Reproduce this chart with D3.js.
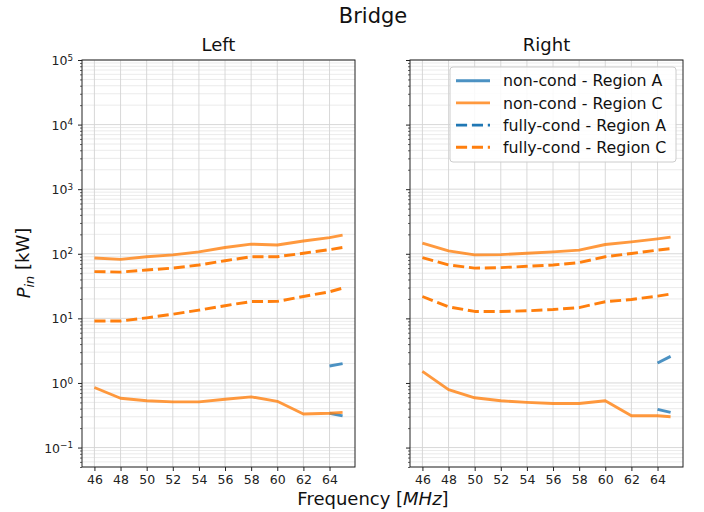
<!DOCTYPE html>
<html>
<head>
<meta charset="utf-8">
<script src="https://cdn.jsdelivr.net/npm/d3@7"></script>
<style>
  html, body { margin: 0; padding: 0; background: #fff; }
  svg { display: block; font-family: "DejaVu Sans", sans-serif; }
</style>
</head>
<body>
<svg id="chart" width="704" height="512"></svg>
<script>
// ---------- data ----------
const freqs = [46, 48, 50, 52, 54, 56, 58, 60, 62, 64, 65];
const freqsA = [64, 65];
const xTickValues = [46, 48, 50, 52, 54, 56, 58, 60, 62, 64];
const yDecades = [0.1, 1, 10, 100, 1000, 10000, 100000];
const yDecadeExp = ["\u22121", "0", "1", "2", "3", "4", "5"];
const panelTitles = ["Left", "Right"];
const legendLabels = ["non-cond - Region A", "non-cond - Region C", "fully-cond - Region A", "fully-cond - Region C"];

// Left panel
const leftNonCondA_hi = [1.83, 1.99];
const leftNonCondA_lo = [0.34, 0.31];
const leftNonCondC_hi = [86, 82, 90, 96, 107, 125, 141, 137, 158, 178, 194];
const leftNonCondC_lo = [0.85, 0.58, 0.53, 0.51, 0.51, 0.56, 0.61, 0.52, 0.33, 0.34, 0.35];
const leftFullyCondC_hi = [53, 52, 56, 60, 67, 78, 90, 90, 102, 116, 125];
const leftFullyCondC_lo = [9.1, 9.1, 10.2, 11.6, 13.4, 15.7, 18.2, 18.3, 21.8, 25.8, 29.4];

// Right panel
const rightNonCondA_hi = [2.04, 2.58];
const rightNonCondA_lo = [0.39, 0.35];
const rightNonCondC_hi = [146, 111, 96, 97, 102, 107, 114, 139, 153, 170, 181];
const rightNonCondC_lo = [1.51, 0.79, 0.59, 0.53, 0.50, 0.48, 0.48, 0.53, 0.31, 0.31, 0.30];
const rightFullyCondC_hi = [87, 67, 60, 61, 64, 67, 73, 90, 101, 114, 120];
const rightFullyCondC_lo = [21.8, 15.1, 12.8, 12.8, 13.1, 13.7, 14.7, 18.1, 19.6, 22.1, 23.8];

// ---------- styles ----------
const BLUE = "#1f77b4", ORANGE = "#ff7f0e";
const styles = {
  nonA:   { color: BLUE,   dash: null,         opacity: 0.8 },
  nonC:   { color: ORANGE, dash: null,         opacity: 0.8 },
  fullyA: { color: BLUE,   dash: "11.1,4.8",   opacity: 1 },
  fullyC: { color: ORANGE, dash: "11.1,4.8",   opacity: 1 }
};
const LW = 2.9;

const panels = [
  { title: panelTitles[0], left: 82, right: 355, showYLabels: true,
    series: [
      { xs: freqsA, ys: leftNonCondA_hi, st: "nonA" },
      { xs: freqsA, ys: leftNonCondA_lo, st: "nonA" },
      { xs: freqs, ys: leftNonCondC_hi, st: "nonC" },
      { xs: freqs, ys: leftNonCondC_lo, st: "nonC" },
      { xs: freqs, ys: leftFullyCondC_hi, st: "fullyC" },
      { xs: freqs, ys: leftFullyCondC_lo, st: "fullyC" }
    ] },
  { title: panelTitles[1], left: 410, right: 683, showYLabels: false,
    series: [
      { xs: freqsA, ys: rightNonCondA_hi, st: "nonA" },
      { xs: freqsA, ys: rightNonCondA_lo, st: "nonA" },
      { xs: freqs, ys: rightNonCondC_hi, st: "nonC" },
      { xs: freqs, ys: rightNonCondC_lo, st: "nonC" },
      { xs: freqs, ys: rightFullyCondC_hi, st: "fullyC" },
      { xs: freqs, ys: rightFullyCondC_lo, st: "fullyC" }
    ] }
];

const TOP = 60, BOTTOM = 467;
const svg = d3.select("#chart");

const xMin = d3.min(freqs), xMax = d3.max(freqs);
const xPad = (xMax - xMin) * 0.05;
const y = d3.scaleLog().domain([0.05, 1e5]).range([BOTTOM, TOP]);

// minor tick values
const yMinor = [];
for (let e = -2; e <= 4; e++) {
  for (let m = 2; m <= 9; m++) {
    const v = m * Math.pow(10, e);
    if (v >= 0.05 && v <= 1e5) yMinor.push(v);
  }
}

panels.forEach(p => {
  const x = d3.scaleLinear().domain([xMin - xPad, xMax + xPad]).range([p.left, p.right]);
  const g = svg.append("g");

  // grid
  const grid = g.append("g");
  grid.selectAll("line.minor").data(yMinor).enter().append("line")
    .attr("x1", p.left).attr("x2", p.right)
    .attr("y1", d => y(d)).attr("y2", d => y(d))
    .attr("stroke", "#e6e6e6").attr("stroke-width", 0.8);
  grid.selectAll("line.majy").data(yDecades).enter().append("line")
    .attr("x1", p.left).attr("x2", p.right)
    .attr("y1", d => y(d)).attr("y2", d => y(d))
    .attr("stroke", "#d4d4d4").attr("stroke-width", 0.9);
  grid.selectAll("line.majx").data(xTickValues).enter().append("line")
    .attr("x1", d => x(d)).attr("x2", d => x(d))
    .attr("y1", TOP).attr("y2", BOTTOM)
    .attr("stroke", "#d4d4d4").attr("stroke-width", 0.9);

  // lines
  const line = d3.line().x(d => x(d[0])).y(d => y(d[1]));
  p.series.forEach(s => {
    const st = styles[s.st];
    const pts = s.xs.map((xv, i) => [xv, s.ys[i]]);
    g.append("path").datum(pts)
      .attr("d", line)
      .attr("fill", "none")
      .attr("stroke", st.color)
      .attr("stroke-opacity", st.opacity)
      .attr("stroke-width", LW)
      .attr("stroke-dasharray", st.dash)
      .attr("stroke-linecap", st.dash ? "butt" : "projecting")
      .attr("stroke-linejoin", "round");
  });

  // frame
  g.append("rect").attr("x", p.left).attr("y", TOP)
    .attr("width", p.right - p.left).attr("height", BOTTOM - TOP)
    .attr("fill", "none").attr("stroke", "#222").attr("stroke-width", 1);

  // x axis
  const xAxis = g.append("g").attr("transform", `translate(0,${BOTTOM})`)
    .call(d3.axisBottom(x).tickValues(xTickValues).tickSize(4).tickPadding(4).tickFormat(d3.format("d")));
  xAxis.select(".domain").remove();
  xAxis.selectAll(".tick line").attr("stroke", "#222");
  xAxis.selectAll(".tick text").attr("font-size", 12.5).attr("fill", "#222")
    .attr("font-family", "DejaVu Sans");

  // y minor ticks
  const yMinAxis = g.append("g").attr("transform", `translate(${p.left},0)`)
    .call(d3.axisLeft(y).tickValues(yMinor).tickSize(2).tickFormat(""));
  yMinAxis.select(".domain").remove();
  yMinAxis.selectAll(".tick line").attr("stroke", "#222").attr("stroke-width", 0.7);

  // y major ticks
  const yAxis = g.append("g").attr("transform", `translate(${p.left},0)`)
    .call(d3.axisLeft(y).tickValues(yDecades).tickSize(4).tickPadding(5).tickFormat(""));
  yAxis.select(".domain").remove();
  yAxis.selectAll(".tick line").attr("stroke", "#222");
  if (p.showYLabels) {
    yAxis.selectAll(".tick text").each(function(d, i) {
      const t = d3.select(this);
      t.attr("font-size", 12.5).attr("fill", "#222").attr("font-family", "DejaVu Sans")
        .attr("dy", "0.36em");
      t.append("tspan").text("10");
      t.append("tspan").attr("dy", "-0.5em").attr("font-size", 8.8).text(yDecadeExp[i]);
    });
  }

  // panel title
  svg.append("text").attr("x", (p.left + p.right) / 2).attr("y", 51)
    .attr("text-anchor", "middle").attr("font-size", 18).attr("fill", "#111")
    .text(p.title);
});

// suptitle
svg.append("text").attr("x", 373).attr("y", 23).attr("text-anchor", "middle")
  .attr("font-size", 21).attr("fill", "#111").text("Bridge");

// x label
const xl = svg.append("text").attr("x", 373).attr("y", 504.5).attr("text-anchor", "middle")
  .attr("font-size", 18).attr("fill", "#111");
xl.append("tspan").text("Frequency [");
xl.append("tspan").attr("font-style", "italic").text("MHz");
xl.append("tspan").text("]");

// y label
const yl = svg.append("text").attr("transform", "translate(30,263) rotate(-90)")
  .attr("text-anchor", "middle").attr("font-size", 18).attr("fill", "#111");
yl.append("tspan").attr("font-style", "italic").text("P");
yl.append("tspan").attr("font-style", "italic").attr("font-size", 13).attr("dy", "0.3em").text("in");
yl.append("tspan").attr("dy", "-0.3em").text(" [kW]");

// legend
const lg = svg.append("g");
lg.append("rect").attr("x", 450).attr("y", 67).attr("width", 226).attr("height", 95)
  .attr("rx", 3).attr("fill", "#fff").attr("fill-opacity", 0.85)
  .attr("stroke", "#cccccc").attr("stroke-width", 1);
const legendKeys = ["nonA", "nonC", "fullyA", "fullyC"];
legendKeys.forEach((k, i) => {
  const cy = 80.7 + i * 22.2;
  const st = styles[k];
  lg.append("line").attr("x1", 456).attr("x2", 490).attr("y1", cy).attr("y2", cy)
    .attr("stroke", st.color).attr("stroke-opacity", st.opacity)
    .attr("stroke-width", LW).attr("stroke-dasharray", st.dash);
  lg.append("text").attr("x", 503).attr("y", cy).attr("dy", "0.36em")
    .attr("font-size", 15.8).attr("fill", "#111").text(legendLabels[i]);
});
</script>
</body>
</html>
